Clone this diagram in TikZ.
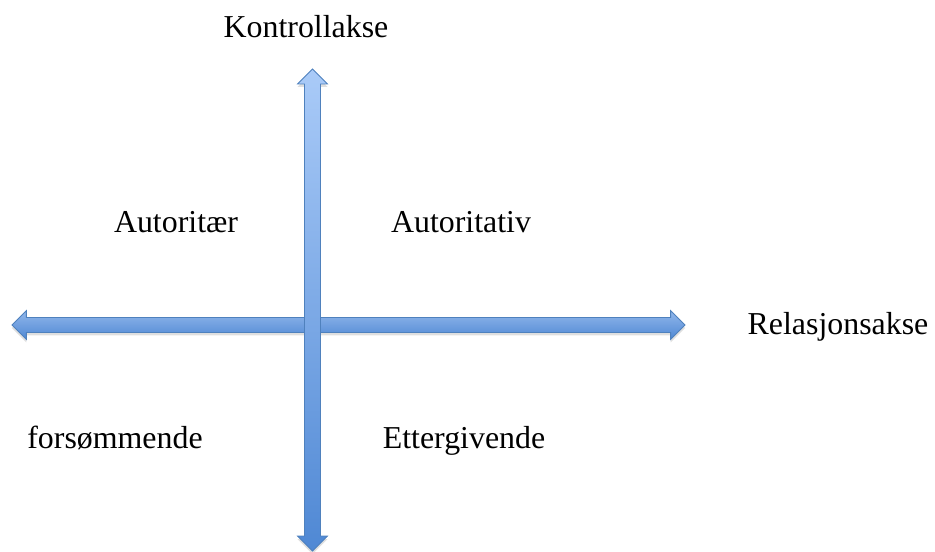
\documentclass[tikz,border=0pt]{standalone}
\usepackage{fontspec}
\setmainfont{Liberation Serif}
\usetikzlibrary{shapes.arrows,shadows}

\definecolor{axisline}{HTML}{4F81BD}
\definecolor{axislight}{HTML}{AACBF8}
\definecolor{axismid}{HTML}{76A5E6}
\definecolor{axisdark}{HTML}{4F88D4}

\tikzset{
  axisarrow/.style={shape=double arrow, draw=axisline, line width=0.8bp,
    inner sep=0pt, double arrow head extend=7bp, double arrow tip angle=90,
    drop shadow={opacity=0.25, shadow xshift=0bp, shadow yshift=-3bp}},
  quadlabel/.style={anchor=base, inner sep=0pt, font=\fontsize{32}{38}\selectfont}
}

\begin{document}
\begin{tikzpicture}[x=1bp,y=-1bp]
\useasboundingbox (0,0) rectangle (935,552);
% axes
\node[axisarrow, minimum height=673bp, minimum width=28bp, text height=14bp,
  top color=axismid!80!white, bottom color=axisdark] at (348.5,325) (relasjon){};
\node[axisarrow, rotate=90, minimum height=482bp, minimum width=30bp, text height=15bp,
  top color=axislight, bottom color=axisdark] at (312.5,310) (kontroll){};
% labels
\node[quadlabel] at (306,38) (kontrollakse){Kontrollakse};
\node[quadlabel] at (838,335) (relasjonsakse){Relasjonsakse};
\node[quadlabel] at (176,233) (autoritaer){Autoritær};
\node[quadlabel] at (461,233) (autoritativ){Autoritativ};
\node[quadlabel] at (115,448) (forsommende){forsømmende};
\node[quadlabel] at (464,448) (ettergivende){Ettergivende};
\end{tikzpicture}
\end{document}
